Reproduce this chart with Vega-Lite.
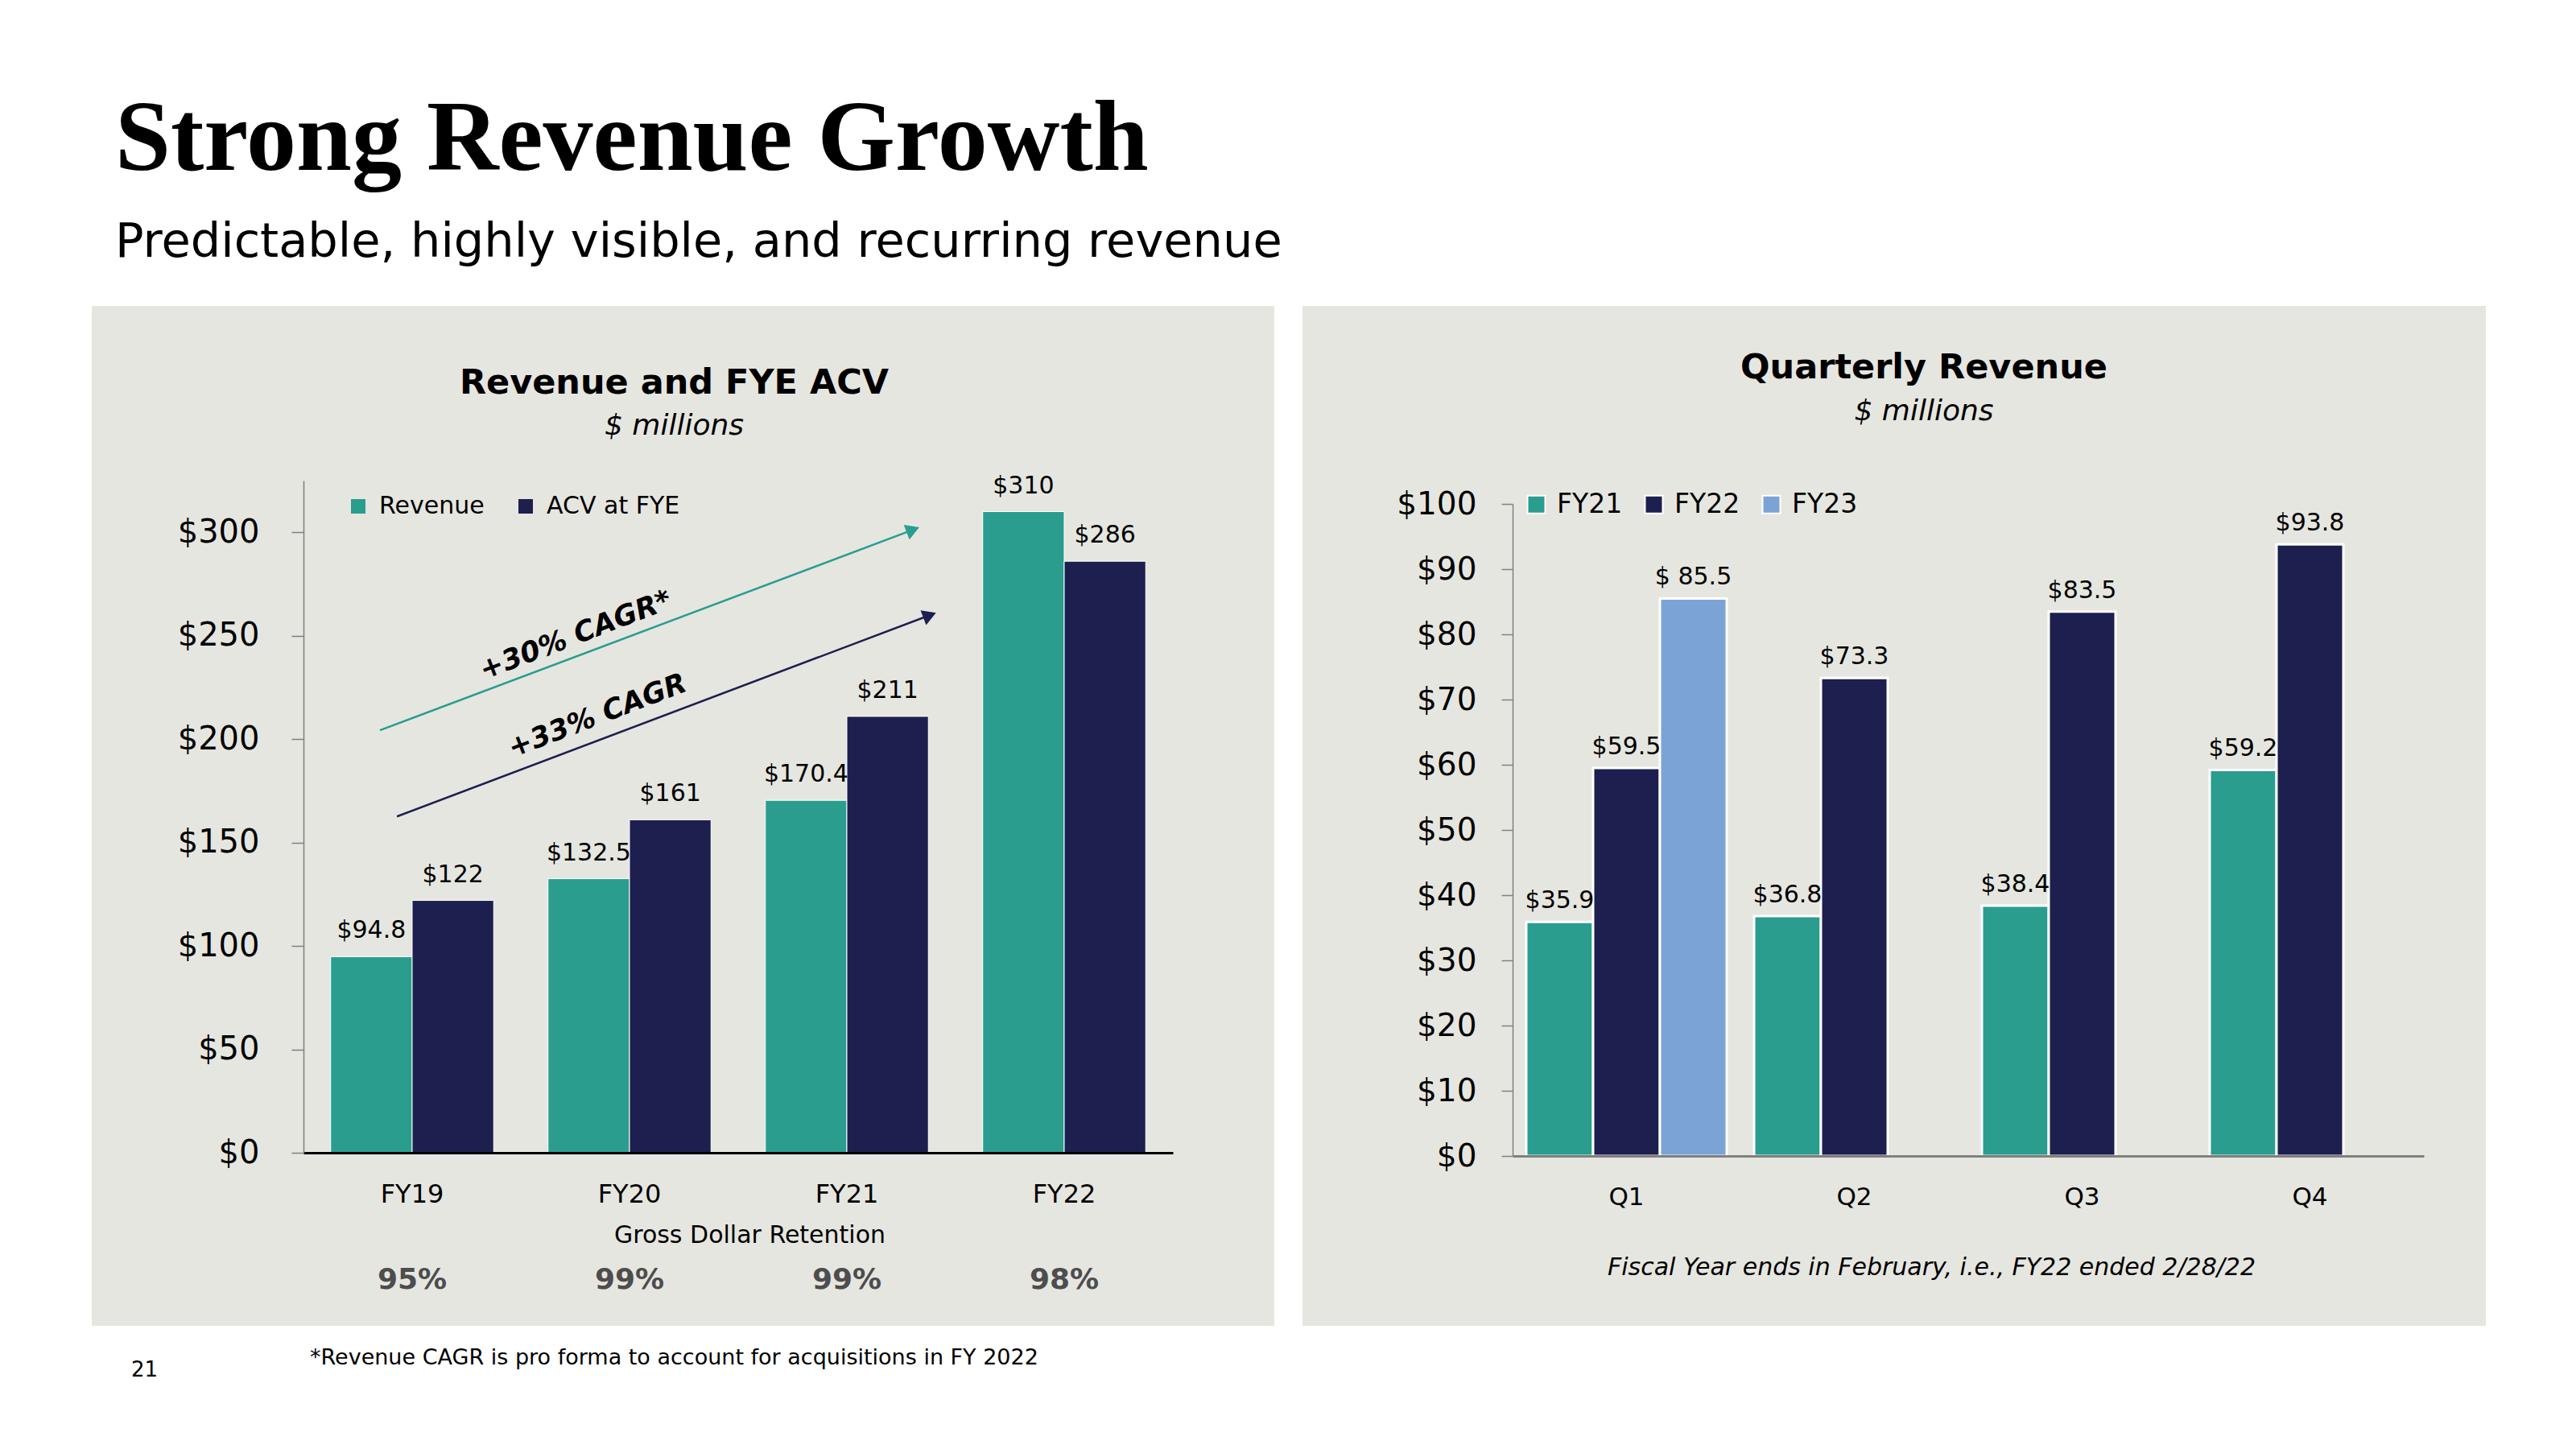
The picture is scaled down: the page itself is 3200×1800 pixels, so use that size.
{
  "$schema": "https://vega.github.io/schema/vega-lite/v6.json",
  "background": "#FFFFFF",
  "padding": {"left": 114, "top": 112, "right": 40, "bottom": 40},
  "config": {
    "font": "DejaVu Sans",
    "view": {"stroke": null},
    "axis": {"grid": false, "labelColor": "#000000", "titleColor": "#000000", "labelFont": "DejaVu Sans", "titleFont": "DejaVu Sans", "zindex": 1},
    "legend": {"labelColor": "#000000", "labelFont": "DejaVu Sans", "labelLimit": 0},
    "title": {"color": "#000000", "subtitleColor": "#000000"}
  },
  "datasets": {
    "annual": [
      {"year": "FY19", "metric": "Revenue", "value": 94.8},
      {"year": "FY19", "metric": "ACV at FYE", "value": 122},
      {"year": "FY20", "metric": "Revenue", "value": 132.5},
      {"year": "FY20", "metric": "ACV at FYE", "value": 161},
      {"year": "FY21", "metric": "Revenue", "value": 170.4},
      {"year": "FY21", "metric": "ACV at FYE", "value": 211},
      {"year": "FY22", "metric": "Revenue", "value": 310},
      {"year": "FY22", "metric": "ACV at FYE", "value": 286}
    ],
    "gdr": [
      {"year": "FY19", "retention": 0.95},
      {"year": "FY20", "retention": 0.99},
      {"year": "FY21", "retention": 0.99},
      {"year": "FY22", "retention": 0.98}
    ],
    "cagr": [
      {"series": "Revenue", "label": "+30% CAGR*", "fy_from": 18.852, "value_from": 204.3, "fy_to": 21.304, "value_to": 301.2, "fy_label": 19.752, "value_label": 250.2},
      {"series": "ACV at FYE", "label": "+33% CAGR", "fy_from": 18.93, "value_from": 162.6, "fy_to": 21.381, "value_to": 259.9, "fy_label": 19.852, "value_label": 211.3}
    ],
    "quarterly": [
      {"quarter": "Q1", "fy": "FY21", "value": 35.9, "label": "$35.9"},
      {"quarter": "Q1", "fy": "FY22", "value": 59.5, "label": "$59.5"},
      {"quarter": "Q1", "fy": "FY23", "value": 85.5, "label": "$ 85.5"},
      {"quarter": "Q2", "fy": "FY21", "value": 36.8, "label": "$36.8"},
      {"quarter": "Q2", "fy": "FY22", "value": 73.3, "label": "$73.3"},
      {"quarter": "Q3", "fy": "FY21", "value": 38.4, "label": "$38.4"},
      {"quarter": "Q3", "fy": "FY22", "value": 83.5, "label": "$83.5"},
      {"quarter": "Q4", "fy": "FY21", "value": 59.2, "label": "$59.2"},
      {"quarter": "Q4", "fy": "FY22", "value": 93.8, "label": "$93.8"}
    ]
  },
  "title": {
    "text": "Strong Revenue Growth",
    "subtitle": "Predictable, highly visible, and recurring revenue",
    "anchor": "start",
    "font": "Liberation Serif",
    "fontSize": 124,
    "fontWeight": "bold",
    "color": "#000000",
    "subtitleFont": "DejaVu Sans",
    "subtitleFontSize": 59,
    "subtitleColor": "#000000",
    "subtitlePadding": 35,
    "offset": 48,
    "dx": 29
  },
  "resolve": {"scale": {"color": "independent", "xOffset": "independent"}, "legend": {"color": "independent"}},
  "vconcat": [
    {
      "title": {"text": "21", "orient": "bottom", "anchor": "start", "font": "DejaVu Sans", "fontSize": 26, "fontWeight": "normal", "color": "#000000", "dx": 49, "offset": -11},
      "spacing": 35,
      "resolve": {"scale": {"color": "independent", "xOffset": "independent"}, "legend": {"color": "independent"}},
      "hconcat": [
        {
          "title": {"text": "*Revenue  CAGR is pro forma to account for acquisitions in FY 2022", "orient": "bottom", "anchor": "start", "font": "DejaVu Sans", "fontSize": 27, "fontWeight": "normal", "color": "#000000", "dx": 271, "offset": 27},
          "resolve": {"scale": {"color": "independent", "xOffset": "independent"}, "legend": {"color": "independent"}},
          "vconcat": [
            {
              "width": 1469,
              "height": 1267,
              "view": {"fill": "#E6E6E0", "stroke": null},
              "title": {
                "text": "Revenue and FYE ACV",
                "subtitle": "$ millions",
                "anchor": "middle",
                "frame": "group",
                "font": "DejaVu Sans",
                "fontSize": 43,
                "fontWeight": "bold",
                "subtitleFont": "DejaVu Sans",
                "subtitleFontSize": 36,
                "subtitleFontStyle": "italic",
                "subtitlePadding": 14,
                "offset": -167,
                "dx": -11
              },
              "resolve": {"scale": {"x": "independent", "color": "independent"}, "axis": {"y": "independent"}},
              "layer": [
                {
                  "layer": [
                    {
                      "data": {"name": "annual"},
                      "mark": {"type": "bar", "stroke": "#FFFFFF", "strokeWidth": 1},
                      "encoding": {
                        "x": {
                          "field": "year", "type": "nominal",
                          "scale": {"range": [263, 1343], "paddingInner": 0.25, "paddingOuter": 0.125},
                          "axis": {"orient": "bottom", "offset": -215, "title": "Gross Dollar Retention", "titleFontSize": 30, "titleFontWeight": "normal", "titlePadding": 20, "titleX": 817, "labelAngle": 0, "labelFontSize": 32, "labelPadding": 36, "ticks": false, "tickSize": 0, "domainColor": "#000000", "domainWidth": 3, "zindex": 1}
                        },
                        "xOffset": {"field": "metric", "type": "nominal", "sort": ["Revenue", "ACV at FYE"], "scale": {"domain": ["Revenue", "ACV at FYE"], "paddingInner": 0, "paddingOuter": 0}},
                        "y": {
                          "field": "value", "type": "quantitative",
                          "scale": {"domain": [0, 325], "range": [1052, 217], "nice": false, "zero": false},
                          "axis": {"orient": "left", "offset": -263, "values": [0, 50, 100, 150, 200, 250, 300], "format": "$.0f", "title": null, "domainColor": "#7F7F7F", "domainWidth": 1.5, "tickColor": "#7F7F7F", "tickWidth": 1.5, "tickSize": 15, "labelFontSize": 40, "labelPadding": 40, "zindex": 1}
                        },
                        "color": {
                          "field": "metric", "type": "nominal",
                          "scale": {"domain": ["Revenue", "ACV at FYE"], "range": ["#2A9D8F", "#1D1F4F"]},
                          "legend": {"orient": "none", "legendX": 316, "legendY": 234, "direction": "horizontal", "title": null, "symbolType": "square", "symbolSize": 324, "symbolStrokeWidth": 0, "labelFontSize": 30, "labelOffset": 11, "columnPadding": 36, "padding": 0, "labelLimit": 0}
                        }
                      }
                    },
                    {
                      "data": {"name": "annual"},
                      "mark": {"type": "text", "baseline": "bottom", "dy": -17, "fontSize": 30, "color": "#000000"},
                      "encoding": {
                        "x": {"field": "year", "type": "nominal"},
                        "xOffset": {"field": "metric", "type": "nominal", "sort": ["Revenue", "ACV at FYE"]},
                        "y": {"field": "value", "type": "quantitative"},
                        "text": {"field": "value", "type": "quantitative", "format": "$.4~g"}
                      }
                    },
                    {
                      "data": {"name": "gdr"},
                      "mark": {"type": "text", "baseline": "middle", "fontSize": 36, "fontWeight": "bold", "color": "#4D4D4D"},
                      "encoding": {
                        "x": {"field": "year", "type": "nominal"},
                        "y": {"datum": -61.5, "type": "quantitative"},
                        "text": {"field": "retention", "type": "quantitative", "format": ".0%"}
                      }
                    }
                  ]
                },
                {
                  "data": {"name": "cagr"},
                  "layer": [
                    {
                      "mark": {"type": "rule", "strokeWidth": 2.5},
                      "encoding": {
                        "x": {"field": "fy_from", "type": "quantitative", "scale": {"domain": [18.5, 22.5], "range": [263, 1343], "nice": false, "zero": false}, "axis": null},
                        "x2": {"field": "fy_to"},
                        "y": {"field": "value_from", "type": "quantitative", "axis": null},
                        "y2": {"field": "value_to"},
                        "color": {"field": "series", "type": "nominal", "scale": {"domain": ["Revenue", "ACV at FYE"], "range": ["#2A9D8F", "#1D1F4F"]}, "legend": null}
                      }
                    },
                    {
                      "mark": {"type": "point", "shape": "triangle-up", "filled": true, "size": 380, "angle": 69, "opacity": 1},
                      "encoding": {
                        "x": {"field": "fy_to", "type": "quantitative", "axis": null},
                        "y": {"field": "value_to", "type": "quantitative", "axis": null},
                        "color": {"field": "series", "type": "nominal", "scale": {"domain": ["Revenue", "ACV at FYE"], "range": ["#2A9D8F", "#1D1F4F"]}, "legend": null}
                      }
                    },
                    {
                      "mark": {"type": "text", "angle": 339, "fontSize": 35, "fontWeight": "bold", "fontStyle": "italic", "color": "#000000", "align": "center", "baseline": "middle"},
                      "encoding": {
                        "x": {"field": "fy_label", "type": "quantitative", "axis": null},
                        "y": {"field": "value_label", "type": "quantitative", "axis": null},
                        "text": {"field": "label", "type": "nominal"}
                      }
                    }
                  ]
                }
              ]
            }
          ]
        },
        {
          "width": 1470,
          "height": 1267,
          "view": {"fill": "#E6E6E0", "stroke": null},
          "title": {
            "text": "Quarterly Revenue",
            "subtitle": "$ millions",
            "anchor": "middle",
            "frame": "group",
            "font": "DejaVu Sans",
            "fontSize": 43,
            "fontWeight": "bold",
            "subtitleFont": "DejaVu Sans",
            "subtitleFontSize": 36,
            "subtitleFontStyle": "italic",
            "subtitlePadding": 15,
            "offset": -149,
            "dx": 37
          },
          "data": {"name": "quarterly"},
          "layer": [
            {
              "mark": {"type": "bar", "stroke": "#FFFFFF", "strokeWidth": 3},
              "encoding": {
                "x": {
                  "field": "quarter", "type": "nominal",
                  "scale": {"range": [261, 1393], "paddingInner": 0.12, "paddingOuter": 0.06},
                  "axis": {"orient": "bottom", "offset": -211, "title": "Fiscal Year ends in February, i.e., FY22 ended 2/28/22", "titleFontSize": 30, "titleFontWeight": "normal", "titleFontStyle": "italic", "titlePadding": 57, "titleX": 781, "labelAngle": 0, "labelFontSize": 31, "labelPadding": 36, "ticks": false, "tickSize": 0, "domainColor": "#808080", "domainWidth": 3, "zindex": 1}
                },
                "xOffset": {"field": "fy", "type": "nominal", "scale": {"domain": ["FY21", "FY22", "FY23"], "paddingInner": 0, "paddingOuter": 0}},
                "y": {
                  "field": "value", "type": "quantitative",
                  "scale": {"domain": [0, 100], "range": [1056, 246], "nice": false, "zero": false},
                  "axis": {"orient": "left", "offset": -261, "values": [0, 10, 20, 30, 40, 50, 60, 70, 80, 90, 100], "format": "$.0f", "title": null, "domainColor": "#808080", "domainWidth": 1.5, "tickColor": "#808080", "tickWidth": 1.5, "tickSize": 14, "labelFontSize": 39, "labelPadding": 31, "zindex": 1}
                },
                "color": {
                  "field": "fy", "type": "nominal",
                  "scale": {"domain": ["FY21", "FY22", "FY23"], "range": ["#2A9D8F", "#1D1F4F", "#7CA3D5"]},
                  "legend": {"orient": "none", "legendX": 274, "legendY": 230, "direction": "horizontal", "title": null, "symbolType": "square", "symbolSize": 484, "symbolStrokeColor": "#FFFFFF", "symbolStrokeWidth": 2, "labelFontSize": 33, "labelOffset": 9, "columnPadding": 22, "padding": 0, "labelLimit": 0}
                }
              }
            },
            {
              "mark": {"type": "text", "baseline": "bottom", "dy": -11, "fontSize": 30, "color": "#000000"},
              "encoding": {
                "x": {"field": "quarter", "type": "nominal"},
                "xOffset": {"field": "fy", "type": "nominal"},
                "y": {"field": "value", "type": "quantitative"},
                "text": {"field": "label", "type": "nominal"}
              }
            }
          ]
        }
      ]
    }
  ]
}
